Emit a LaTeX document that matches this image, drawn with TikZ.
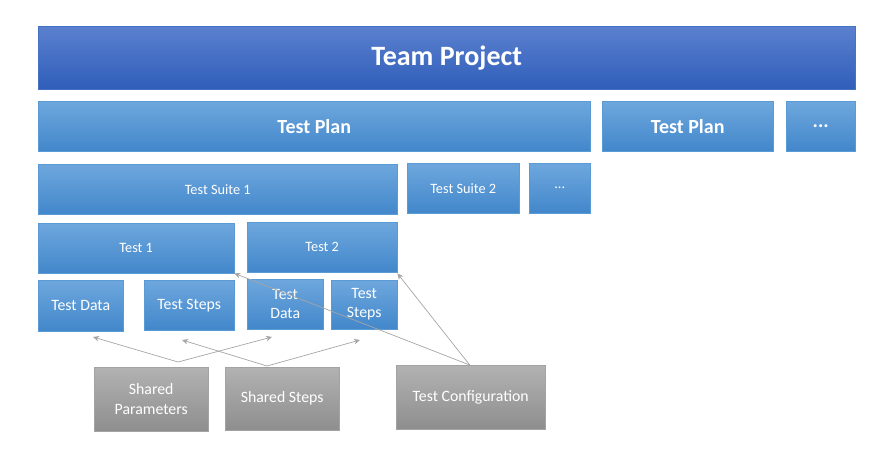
\documentclass[tikz,border=0pt]{standalone}
\usepackage{fontspec}
\setmainfont{Carlito}
\usetikzlibrary{arrows.meta}
\definecolor{projtop}{HTML}{5B80CF}
\definecolor{projbot}{HTML}{2F5EB9}
\definecolor{projline}{HTML}{4472C4}
\definecolor{boxtop}{HTML}{6EA7DD}
\definecolor{boxbot}{HTML}{4287CB}
\definecolor{boxline}{HTML}{5B9BD5}
\definecolor{greytop}{HTML}{B2B2B2}
\definecolor{greybot}{HTML}{8E8E8E}
\definecolor{greyline}{HTML}{A3A3A3}
\definecolor{linkgrey}{HTML}{A5A5A5}
\tikzset{
  bluebox/.style={draw=boxline, top color=boxtop, bottom color=boxbot, text=white,
    anchor=north west, inner sep=0pt, align=center},
  projbox/.style={bluebox, draw=projline, top color=projtop, bottom color=projbot},
  greybox/.style={bluebox, draw=greyline, top color=greytop, bottom color=greybot},
  link/.style={draw=linkgrey, line width=0.7pt, -{Stealth[length=6pt,width=5.5pt]}}
}
\begin{document}
\begin{tikzpicture}[x=1pt,y=-1pt]
\useasboundingbox (0,0) rectangle (890,462);
% top levels
\node[projbox, minimum width=817, minimum height=63, font=\fontsize{28}{32}\selectfont\bfseries] (project) at (38,26) {Team Project};
\node[bluebox, minimum width=552, minimum height=50, font=\fontsize{20}{24}\selectfont\bfseries] (plan1) at (38,101) {Test Plan};
\node[bluebox, minimum width=171, minimum height=50, font=\fontsize{20}{24}\selectfont\bfseries] (plan2) at (602,101) {Test Plan};
\node[bluebox, minimum width=69, minimum height=50, font=\fontsize{20}{24}\selectfont\bfseries] (planmore) at (786,101) {...};
% suites
\node[bluebox, minimum width=359, minimum height=50, font=\fontsize{14.3}{16}\selectfont] (suite1) at (38,164) {Test Suite 1};
\node[bluebox, minimum width=112, minimum height=50, font=\fontsize{14.3}{16}\selectfont] (suite2) at (407,163) {Test Suite 2};
\node[bluebox, minimum width=61, minimum height=50, font=\fontsize{14.3}{16}\selectfont] (suitemore) at (529,163) {...};
% tests
\node[bluebox, minimum width=196, minimum height=50, font=\fontsize{14.3}{16}\selectfont] (test1) at (38,223) {Test 1};
\node[bluebox, minimum width=150, minimum height=50, font=\fontsize{14.3}{16}\selectfont] (test2) at (247,222) {Test 2};
% test parts
\node[bluebox, minimum width=85, minimum height=51, font=\fontsize{15.8}{18}\selectfont] (data1) at (38,280) {Test Data};
\node[bluebox, minimum width=90, minimum height=50, font=\fontsize{15.8}{18}\selectfont] (steps1) at (144,280) {Test Steps};
\node[bluebox, minimum width=76, minimum height=50, font=\fontsize{15.8}{19}\selectfont] (data2) at (247,279) {Test\\Data};
\node[bluebox, minimum width=66, minimum height=49, font=\fontsize{15.8}{19}\selectfont] (steps2) at (331,280) {Test\\Steps};
% shared items
\node[greybox, minimum width=114, minimum height=64, font=\fontsize{15.8}{20}\selectfont] (sharedpar) at (94,367) {Shared\\Parameters};
\node[greybox, minimum width=114, minimum height=63, font=\fontsize{15.8}{18}\selectfont] (sharedsteps) at (225,367) {Shared Steps};
\node[greybox, minimum width=149, minimum height=64, font=\fontsize{15.8}{18}\selectfont] (config) at (396,365) {Test Configuration};
% links
\coordinate (parjoin) at (178,362);
\coordinate (stepjoin) at (267,366);
\coordinate (parend1) at (93,337);
\coordinate (parend2) at (272,337);
\coordinate (stepend1) at (182,340);
\coordinate (stepend2) at (360,340);
\draw[link] (parjoin) -- (parend1);
\draw[link] (parjoin) -- (parend2);
\draw[link] (stepjoin) -- (stepend1);
\draw[link] (stepjoin) -- (stepend2);
\draw[link] (config.north) ++(-1,0) -- (test1.south east);
\draw[link] (config.north) ++(-1,0) -- ([shift={(0,1)}]test2.south east);
\end{tikzpicture}
\end{document}
